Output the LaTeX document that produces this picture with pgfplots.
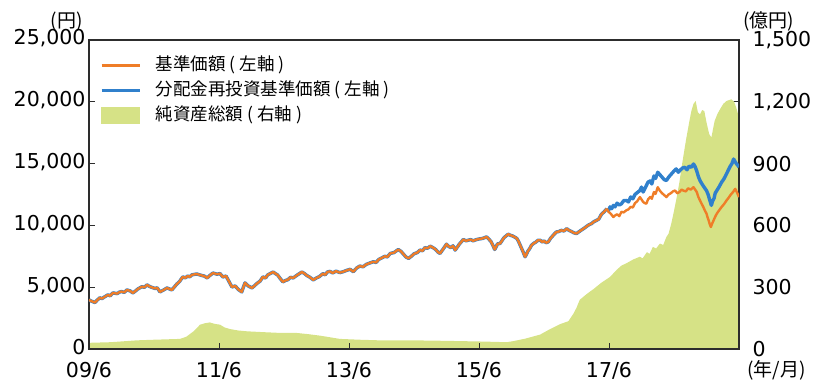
\documentclass[border=0pt]{standalone}
\usepackage{fontspec}
\setmainfont{DejaVu Sans}
\newfontfamily\cjk{Noto Sans CJK JP}
\usepackage{pgfplots}
\usepackage{pgfplotstable}
\pgfplotsset{compat=1.18}
\definecolor{cOrange}{RGB}{239,125,40}
\definecolor{cBlue}{RGB}{48,128,204}
\definecolor{cArea}{RGB}{214,226,134}
\definecolor{cAxis}{RGB}{45,45,45}
\newcommand{\tickfont}{\fontsize{20.5bp}{24bp}\selectfont}
% common part of both NAV series (months since 2009/6, yen)
\pgfplotstableread{
m v
0 3980
0.3 3900
0.6 3850
1.1 3760
1.5 3950
2.0 4140
2.4 4080
2.8 4200
3.5 4380
3.9 4300
4.4 4540
5.2 4480
5.6 4600
6.0 4650
6.5 4580
7.0 4780
7.6 4700
8.1 4540
8.6 4700
9.0 4850
9.8 5050
10.2 4980
10.7 5190
11.1 5080
11.5 5000
12.2 4900
12.6 4950
13.1 4620
13.8 4780
14.4 4940
14.9 4850
15.3 4780
16.2 5250
16.7 5450
17.3 5830
17.8 5760
18.2 5900
18.6 5840
19.0 6000
19.9 6070
20.4 6000
20.8 5950
21.3 5900
21.8 5750
22.4 5980
22.9 6150
23.6 6050
24.2 6100
24.7 5830
25.3 5900
25.8 5500
26.1 5250
26.4 5020
27.0 5100
27.6 4800
28.2 4620
28.5 5000
28.8 5350
29.4 5100
30.1 4940
30.5 5100
31.0 5300
31.6 5500
32.1 5830
32.6 5750
33.0 6000
34.0 6230
34.4 6100
34.8 6000
35.3 5700
35.8 5430
36.3 5550
36.7 5600
37.2 5800
37.7 5750
38.5 6000
39.3 6230
39.8 6100
40.2 5950
40.8 5800
41.4 5590
42.0 5750
42.5 5850
43.2 6100
43.6 6000
44.0 6230
44.5 6280
45.0 6150
45.6 6300
46.3 6180
46.9 6250
47.5 6350
48.2 6450
48.8 6250
49.4 6550
50.0 6710
50.6 6650
51.2 6850
51.8 6950
52.5 7060
53.0 7000
53.5 7250
54.1 7380
54.6 7500
55.1 7450
55.6 7730
56.3 7800
57.1 8050
57.6 7900
58.0 7700
58.5 7450
59.0 7330
59.5 7500
60.0 7700
60.6 7800
61.1 8000
61.6 7950
62.0 8200
62.5 8150
63.0 8320
63.5 8200
64.0 8050
64.4 7850
64.8 7730
65.4 8100
66.0 8480
66.4 8300
66.8 8200
67.2 8350
67.6 8000
68.0 8250
68.4 8500
68.8 8700
69.1 8860
69.6 8750
70.0 8800
70.5 8850
70.9 8750
71.5 8850
72.0 8900
72.7 8950
73.4 9070
73.8 8900
74.2 8700
74.6 8350
74.9 8050
75.2 8300
75.4 8500
75.9 8540
76.3 8800
76.6 9000
77.0 9150
77.4 9290
77.8 9200
78.2 9150
78.6 9050
79.0 8940
79.3 8700
79.6 8400
80.1 7900
80.5 7460
80.8 7700
81.0 7900
81.4 8150
81.7 8400
82.1 8550
82.5 8650
82.9 8800
83.3 8800
83.7 8650
84.0 8750
84.4 8600
84.8 8670
85.2 8950
85.5 9100
85.9 9300
86.3 9470
86.7 9500
87.2 9600
87.7 9550
88.2 9740
88.6 9600
89.1 9500
89.5 9400
90.0 9340
90.5 9500
91.0 9650
91.5 9800
91.9 9930
92.3 10050
92.8 10150
93.2 10300
93.7 10410
94.1 10500
94.6 10900
95.1 11100
95.6 11350
}\common
\pgfplotstableread{
m v
95.6 11350
95.9 11200
96.2 11500
96.5 11350
96.8 11620
97.1 11500
97.5 11800
97.9 11650
98.3 11750
98.7 12000
99.2 12020
99.6 11900
100.0 12300
100.4 12150
100.8 12500
101.2 12650
101.7 12820
102.0 13100
102.3 12700
102.6 12950
102.9 13230
103.2 13500
103.6 13600
103.9 13350
104.3 14000
104.6 13800
105.0 14300
105.4 14100
105.8 13900
106.2 13700
106.6 13630
107.0 13900
107.4 14100
107.9 14350
108.4 14570
108.8 14300
109.2 14500
109.6 14650
110.0 14700
110.4 14500
110.8 14800
111.2 14700
111.6 14970
111.9 14750
112.2 14400
112.5 13950
112.8 13630
113.1 13400
113.4 13200
113.7 13000
114.0 12820
114.3 12500
114.5 12200
114.7 11900
114.9 11620
115.1 11950
115.4 12200
115.6 12600
115.9 12820
116.3 13100
116.8 13500
117.2 13750
117.7 14170
118.0 14450
118.4 14800
118.7 15000
119.0 15370
119.3 15150
119.5 15000
119.8 14850
120.0 14700
}\blue
\pgfplotstableread{
m v
95.6 11350
95.9 11100
96.2 11000
96.5 10850
96.8 10680
97.1 10800
97.5 10900
97.9 10750
98.3 11100
98.7 11050
99.2 11220
99.6 11300
100.0 11500
100.4 11450
100.8 11800
101.2 11950
101.7 12290
102.0 12100
102.3 11900
102.6 11800
102.9 11760
103.2 12100
103.6 12300
103.9 12150
104.3 12700
104.6 12550
105.0 13090
105.4 12800
105.8 12600
106.2 12450
106.6 12290
107.0 12500
107.4 12600
107.8 12750
108.2 12820
108.6 12600
109.0 12700
109.4 12900
109.7 12820
110.2 12750
110.6 13000
111.1 12900
111.6 13090
111.9 12900
112.2 12700
112.5 12300
112.8 12020
113.1 11750
113.4 11500
113.7 11200
114.0 10950
114.2 10650
114.4 10400
114.6 10100
114.8 9870
115.0 10100
115.3 10400
115.6 10700
115.9 10950
116.3 11200
116.8 11500
117.2 11700
117.7 12020
118.1 12250
118.5 12500
118.9 12700
119.3 12960
119.7 12600
120.0 12290
}\orange
\pgfplotstableread{
m v
0 30
4 33
8.8 42
12 45
16.8 49
18 60
19.3 86
20.5 118
21.4 125
22.3 129
23.2 122
24.2 118
25.0 105
26.0 97
27.5 90
29.1 86
32 82
35.3 78
38.3 78
40.5 72
42.6 65
44.5 57
46.3 49
50 45
53.7 42
59.9 42
65 40
69.1 38
73 36
77.1 33
78.3 38
80.5 50
83.3 70
85.0 95
86.9 120
88.5 135
89.4 170
90.0 200
90.6 239
91.8 265
92.5 279
93.1 290
94.5 320
96.2 350
97.4 384
98.3 405
99.2 416
100.5 435
101.7 448
102.2 440
103.0 470
103.5 462
104.1 496
104.7 488
105.4 512
106.0 505
106.6 544
107.0 560
107.5 609
108.0 670
108.5 737
109.0 810
109.4 882
110.0 980
110.3 1027
110.8 1100
111.2 1155
111.6 1190
112.0 1204
112.4 1150
112.8 1139
113.2 1160
113.6 1155
114.0 1100
114.5 1043
114.9 1027
115.5 1107
116.0 1140
116.5 1164
117.1 1190
117.7 1204
118.6 1212
119.1 1200
119.5 1171
120.0 1123
}\assets
\begin{document}
\begin{tikzpicture}
% right axis: net assets (area)
\begin{axis}[
  name=axR,
  scale only axis, width=650bp, height=309bp,
  xmin=0, xmax=120, ymin=0, ymax=1500,
  axis x line=none, axis y line*=right,
  axis line style={cAxis, line width=1.1bp},
  ytick={0,300,...,1500}, ytick pos=right, tick align=inside,
  major tick length=6bp, tick style={cAxis, line width=1bp},
  yticklabel style={font=\tickfont, xshift=10bp},
  /pgf/number format/.cd, 1000 sep={,}, assume math mode=true,
]
\addplot[fill=cArea, draw=none] table[x=m, y=v] {\assets} \closedcycle;
\end{axis}
% left axis: NAV lines
\begin{axis}[
  name=ax,
  scale only axis, width=650bp, height=309bp,
  xmin=0, xmax=120, ymin=0, ymax=25000,
  axis line style={cAxis, line width=1.1bp},
  xtick={0,24,48,72,96}, xticklabels={09/6,11/6,13/6,15/6,17/6},
  xtick pos=bottom, ytick pos=left, tick align=inside,
  ytick={0,5000,...,25000},
  major tick length=6bp, tick style={cAxis, line width=1bp},
  ticklabel style={font=\tickfont},
  xticklabel style={yshift=-10bp},
  yticklabel style={yshift=1.5bp},
  scaled y ticks=false,
  yticklabel style={/pgf/number format/.cd, fixed, 1000 sep={,}},
  /pgf/number format/assume math mode=true,
  legend cell align=left,
  legend style={at={(0.017,0.948)}, anchor=north west, draw=none, fill=none,
    font=\cjk\fontsize{17.5bp}{20bp}\selectfont, inner sep=0pt,
    row sep=7bp,
    nodes={inner sep=0pt, text height=14bp, text depth=4bp},
    /tikz/every odd column/.append style={column sep=15bp}},
]
\addplot[cBlue, line width=3.4bp, line join=round, forget plot] table[x=m, y=v] {\common};
\addplot[cBlue, line width=3.4bp, line join=round, forget plot] table[x=m, y=v] {\blue};
\addplot[cOrange, line width=2.4bp, line join=round, forget plot] table[x=m, y=v] {\common};
\addplot[cOrange, line width=2.4bp, line join=round, forget plot] table[x=m, y=v] {\orange};
\addlegendimage{legend image code/.code={\draw[cOrange, line width=2.6bp] (0bp,0bp) -- (38bp,0bp);}}
\addlegendentry{基準価額 ( 左軸 )}
\addlegendimage{legend image code/.code={\draw[cBlue, line width=2.6bp] (0bp,0bp) -- (38bp,0bp);}}
\addlegendentry{分配金再投資基準価額 ( 左軸 )}
\addlegendimage{legend image code/.code={\fill[cArea] (0bp,-8bp) rectangle (38bp,8bp);}}
\addlegendentry{純資産総額 ( 右軸 )}
\end{axis}
\node[anchor=east, font=\cjk\fontsize{19bp}{22bp}\selectfont, inner sep=0pt] at ([shift={(-6bp,18bp)}]ax.north west) {(円)};
\node[anchor=west, font=\cjk\fontsize{19bp}{22bp}\selectfont, inner sep=0pt] at ([shift={(4bp,19bp)}]ax.north east) {(億円)};
\node[anchor=west, font=\cjk\fontsize{19bp}{22bp}\selectfont, inner sep=0pt] at ([shift={(8bp,-21bp)}]ax.south east) {(年/月)};
\pgfresetboundingbox
\path[use as bounding box] ([shift={(-89bp,-34bp)}]ax.south west) rectangle ([shift={(77bp,40bp)}]ax.north east);
\end{tikzpicture}
\end{document}
